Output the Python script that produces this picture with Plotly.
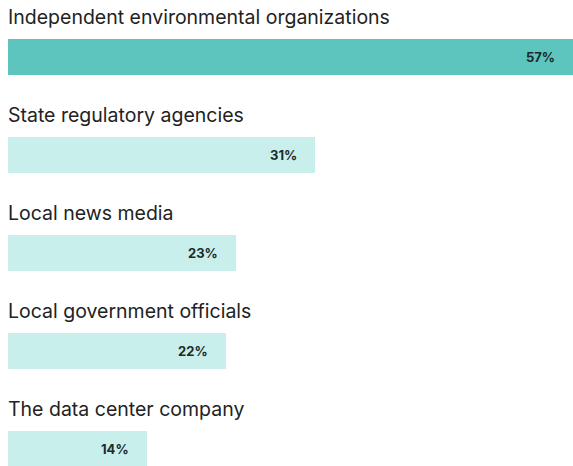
import plotly.graph_objects as go

# Trust in sources of information about a local data center (share of respondents)
categories = [
    "Independent environmental organizations",
    "State regulatory agencies",
    "Local news media",
    "Local government officials",
    "The data center company",
]
values = [57, 31, 23, 22, 14]
value_labels = ["57%", "31%", "23%", "22%", "14%"]

HIGHLIGHT = "#5ec4be"
MUTED = "#c8efec"
positions = list(range(len(categories)))
colors = [HIGHLIGHT if i == 0 else MUTED for i in positions]

fig = go.Figure(
    go.Bar(
        x=values,
        y=positions,
        orientation="h",
        marker=dict(color=colors, line=dict(width=0)),
        width=0.36,
        hoverinfo="skip",
    )
)

annotations = []
for pos, cat, val, lab in zip(positions, categories, values, value_labels):
    # category title above each bar
    annotations.append(dict(
        x=0, y=pos, xref="x", yref="y", text=cat, showarrow=False,
        xanchor="left", yanchor="middle", yshift=40, xshift=-2,
        font=dict(family="Inter", size=19.5, color="#222222"),
    ))
    # value label inside the bar's end
    annotations.append(dict(
        x=val, y=pos, xref="x", yref="y", text=f"<b>{lab}</b>", showarrow=False,
        xanchor="right", yanchor="middle", xshift=-16,
        font=dict(family="Inter", size=13, color="#1c2b2a"),
    ))

fig.update_layout(
    width=573,
    height=466,
    margin=dict(l=8, r=0, t=0, b=0),
    paper_bgcolor="white",
    plot_bgcolor="white",
    showlegend=False,
    bargap=0,
    xaxis=dict(range=[0, 57], visible=False, fixedrange=True),
    yaxis=dict(range=[4.173, -0.582], visible=False, fixedrange=True),
    annotations=annotations,
)

fig.write_html("out.html")
